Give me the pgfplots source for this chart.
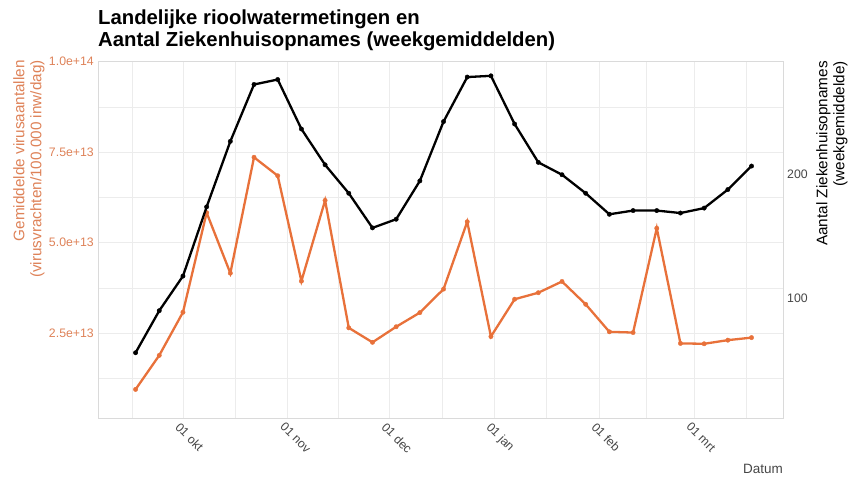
\documentclass[border=0pt]{standalone}
\usepackage{fontspec}
\setmainfont{Liberation Sans}
\usepackage{pgfplots}
\pgfplotsset{compat=1.18}

\definecolor{rioolorange}{RGB}{232,113,58}
\definecolor{rioollabel}{RGB}{222,130,88}
\definecolor{gridgrey}{RGB}{236,236,236}
\definecolor{bordergrey}{RGB}{218,218,218}
\definecolor{ticktext}{RGB}{70,70,70}

\newcommand{\ticksize}{\fontsize{12.3bp}{14bp}\selectfont}
\newcommand{\labsize}{\fontsize{15.3bp}{17bp}\selectfont}

\begin{document}
\begin{tikzpicture}
\path[use as bounding box] (-98bp,-59bp) rectangle (751bp,418bp);

% left axis: virus loads (in units of 1e13), grid and frame
\begin{axis}[
  scale only axis, width=685bp, height=357bp,
  at={(0,0)}, anchor=south west,
  xmin=-25.1, xmax=177.3, ymin=0.16, ymax=10.02,
  xtick={0,31,61,92,123,151},
  xticklabels={01 okt,01 nov,01 dec,01 jan,01 feb,01 mrt},
  minor xtick={-15,15.5,46,76.5,107.5,137,166.5},
  ytick={2.5,5,7.5,10},
  yticklabels={2.5e+13,5.0e+13,7.5e+13,1.0e+14},
  minor ytick={1.25,3.75,6.25,8.75},
  grid=both,
  major grid style={gridgrey, line width=0.8bp},
  minor grid style={gridgrey, line width=0.6bp},
  axis line style={bordergrey, line width=0.8bp},
  major tick length=0pt, minor tick length=0pt,
  tick style={draw=none},
  xticklabel style={font=\ticksize, text=ticktext, rotate=-45, anchor=north west, inner sep=1bp, yshift=-3bp},
  yticklabel style={font=\ticksize, text=rioollabel, anchor=east, inner sep=0pt, xshift=-4bp},
]
\addplot[rioolorange, line width=2.3bp, mark=*, mark size=2.2bp, mark options={solid, line width=0.4bp}] coordinates {
(-14,0.95) (-7,1.89) (0,3.08) (7,5.83) (14,4.16) (21,7.36) (28,6.85)
(35,3.94) (42,6.17) (49,2.65) (56,2.25) (63,2.68) (70,3.07) (77,3.72)
(84,5.58) (91,2.41) (98,3.44) (105,3.62) (112,3.93) (119,3.30) (126,2.54)
(133,2.52) (140,5.40) (147,2.22) (154,2.21) (161,2.31) (168,2.38)
};
\end{axis}

% right axis: hospital admissions
\begin{axis}[
  scale only axis, width=685bp, height=357bp,
  at={(0,0)}, anchor=south west,
  xmin=-25.1, xmax=177.3, ymin=3.2, ymax=292,
  xtick=\empty,
  ytick={100,200}, yticklabels={100,200},
  yticklabel pos=right,
  axis line style={draw=none},
  major tick length=0pt, tick style={draw=none},
  yticklabel style={font=\ticksize, text=ticktext, anchor=west, inner sep=0pt, xshift=4bp},
]
\addplot[black, line width=2.3bp, mark=*, mark size=2.2bp, mark options={solid, line width=0.4bp}] coordinates {
(-14,56) (-7,90) (0,118) (7,174) (14,227) (21,273) (28,277)
(35,237) (42,208) (49,185) (56,157) (63,164) (70,195) (77,243)
(84,279) (91,280) (98,241) (105,210) (112,200) (119,185) (126,168)
(133,171) (140,171) (147,169) (154,173) (161,188) (168,207)
};
\end{axis}

% titles and axis labels
\node[anchor=base west, inner sep=0pt, font=\fontsize{20.3bp}{22bp}\selectfont\bfseries]
  at (0bp,393bp) {Landelijke rioolwatermetingen en};
\node[anchor=base west, inner sep=0pt, font=\fontsize{20.3bp}{22bp}\selectfont\bfseries]
  at (0bp,371bp) {Aantal Ziekenhuisopnames (weekgemiddelden)};
\node[rotate=90, anchor=east, align=right, inner sep=0pt, font=\labsize, text=rioollabel]
  at (-69bp,358bp) {Gemiddelde virusaantallen\\(virusvrachten/100.000 inw/dag)};
\node[rotate=90, anchor=east, align=right, inner sep=0pt, font=\labsize, text=black]
  at (734bp,357bp) {Aantal Ziekenhuisopnames\\(weekgemiddelde)};
\node[anchor=base east, inner sep=0pt, font=\fontsize{13.5bp}{15bp}\selectfont, text=ticktext]
  at (685bp,-55bp) {Datum};
\end{tikzpicture}
\end{document}
